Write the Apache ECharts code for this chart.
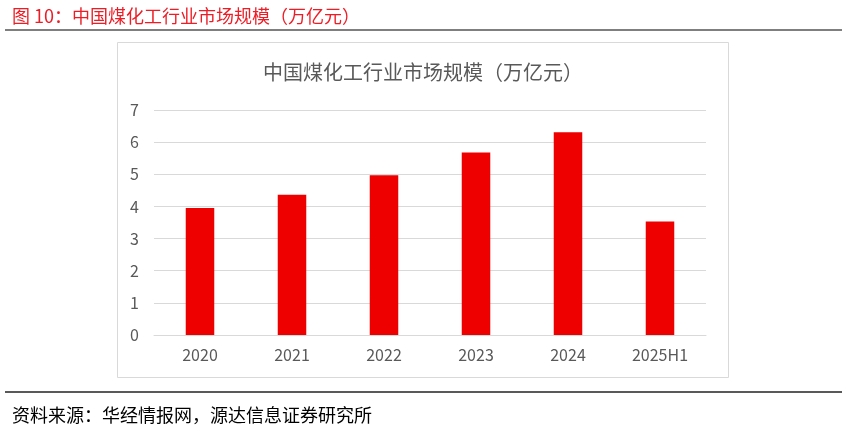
<!DOCTYPE html>
<html><head><meta charset="utf-8">
<script src="https://cdn.jsdelivr.net/npm/echarts@6/dist/echarts.min.js"></script>
<style>html,body{margin:0;padding:0;background:#fff}#c{width:847px;height:431px}</style>
</head><body><div id="c"></div>
<script>
const categories = ['2020','2021','2022','2023','2024','2025H1'];
const values = [3.95, 4.36, 4.97, 5.68, 6.31, 3.53];
const yTicks = [0,1,2,3,4,5,6,7];
const figTitle = '图 10：中国煤化工行业市场规模（万亿元）';
const chartTitle = '中国煤化工行业市场规模（万亿元）';
const sourceText = '资料来源：华经情报网，源达信息证券研究所';
const FONT = '"Noto Sans CJK SC", "Microsoft YaHei", sans-serif';

const chart = echarts.init(document.getElementById('c'));
chart.setOption({
  animation: false,
  backgroundColor: '#fff',
  textStyle: {fontFamily: FONT},
  title: [
    {text: figTitle, left: 7, top: 2, textStyle: {color: '#ee1c25', fontSize: 18, fontWeight: 'normal', fontFamily: FONT}},
    {text: chartTitle, left: 418, textAlign: 'center', top: 57, textStyle: {color: '#595959', fontSize: 20, fontWeight: 'normal', fontFamily: FONT}},
    {text: sourceText, left: 7, top: 401, textStyle: {color: '#000', fontSize: 18, fontWeight: 'normal', fontFamily: FONT}}
  ],
  graphic: [
    {type: 'line', shape: {x1: 5, y1: 30, x2: 842, y2: 30}, style: {stroke: '#555', lineWidth: 1.5}},
    {type: 'rect', shape: {x: 117.5, y: 42.5, width: 611, height: 335}, style: {fill: 'none', stroke: '#d9d9d9', lineWidth: 1}, z: -1},
    {type: 'line', shape: {x1: 5, y1: 392, x2: 842, y2: 392}, style: {stroke: '#222', lineWidth: 1.5}}
  ],
  grid: {left: 154, right: 141, top: 110, bottom: 96},
  xAxis: {
    type: 'category', data: categories,
    axisLine: {lineStyle: {color: '#d9d9d9', width: 1}},
    axisTick: {show: false},
    axisLabel: {color: '#595959', fontSize: 16, margin: 12, fontFamily: FONT}
  },
  yAxis: {
    type: 'value', min: yTicks[0], max: yTicks[yTicks.length-1], interval: 1,
    axisLine: {show: false}, axisTick: {show: false},
    axisLabel: {color: '#595959', fontSize: 16, margin: 15, fontFamily: FONT},
    splitLine: {lineStyle: {color: '#d9d9d9', width: 1}}
  },
  series: [{
    type: 'bar', data: values, barWidth: '31%',
    itemStyle: {color: '#ee0000'}
  }]
});
</script></body></html>
